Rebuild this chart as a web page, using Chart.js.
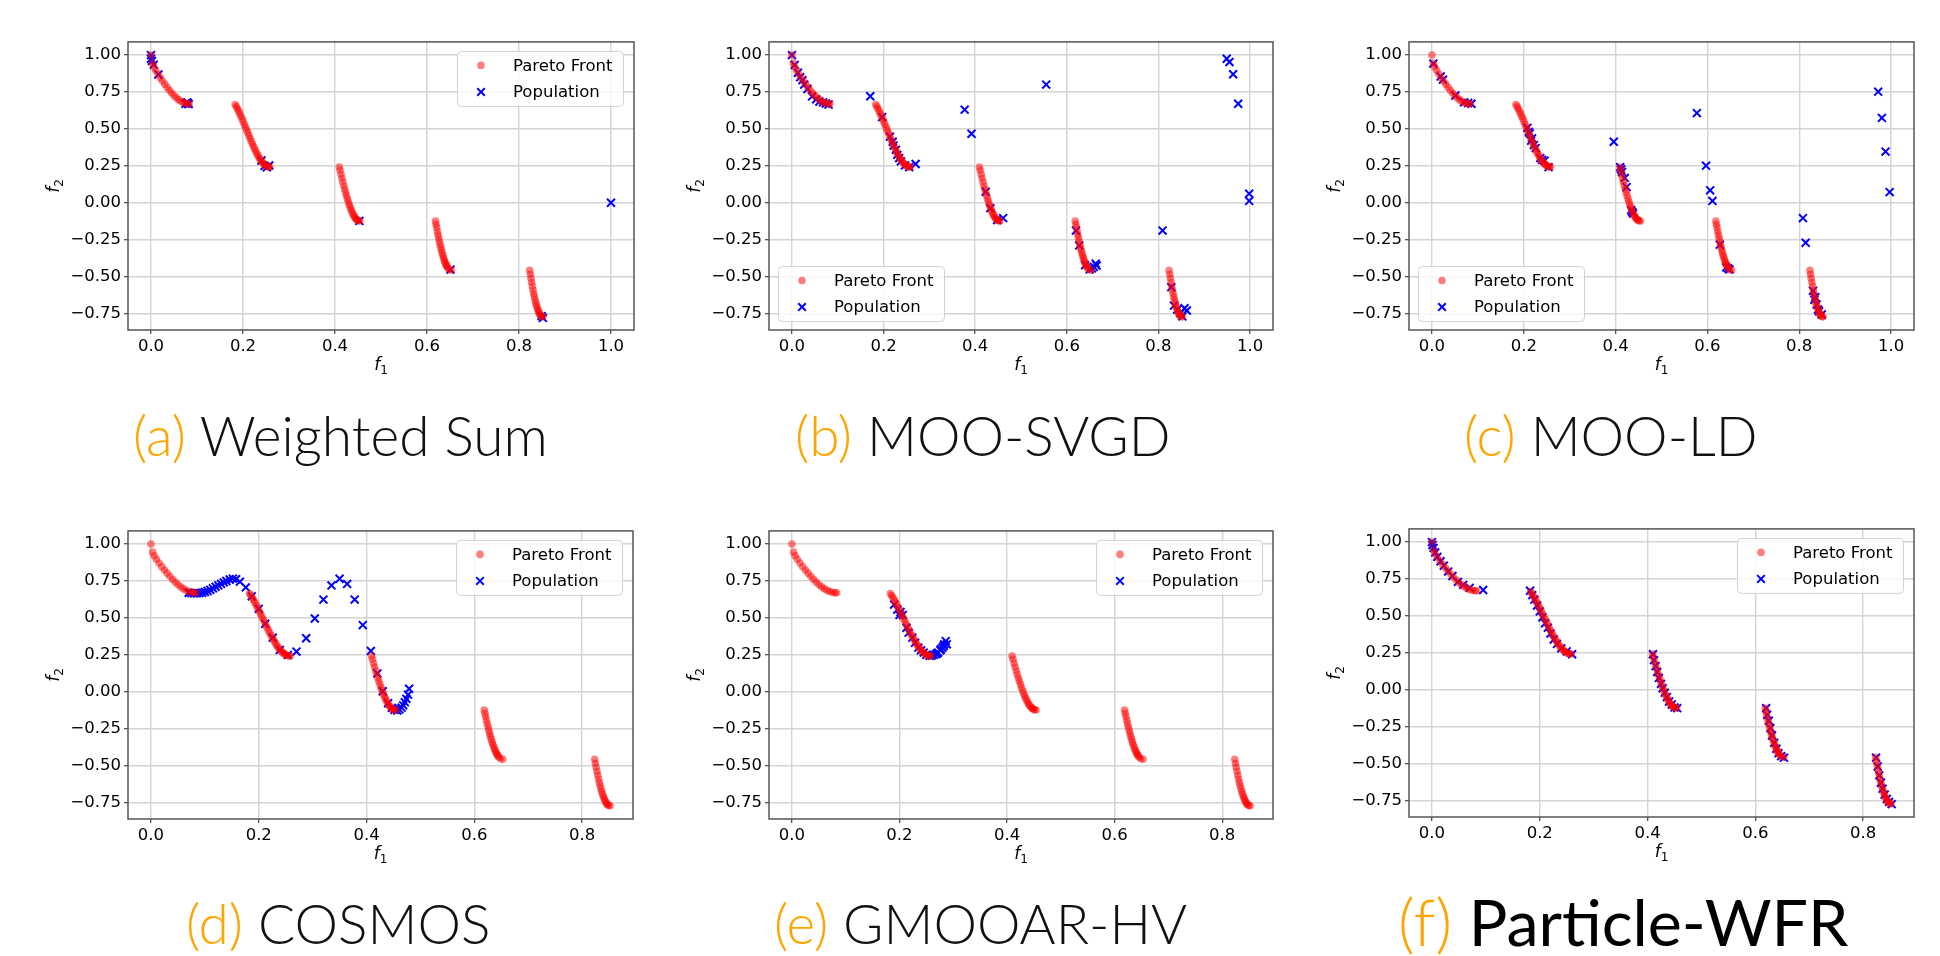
<!DOCTYPE html>
<html>
<head>
<meta charset="utf-8">
<title>Pareto front comparison</title>
<script src="https://cdn.jsdelivr.net/npm/chart.js@4.4.1/dist/chart.umd.min.js"></script>
<style>
  html, body { margin: 0; padding: 0; background: #fff; }
  #page { position: relative; width: 1940px; height: 956px; overflow: hidden; }
  canvas { position: absolute; }
  .cap { position: absolute; white-space: nowrap; font-family: Lato, "Noto Sans", sans-serif; font-weight: 300; line-height: 1; color: #111; }
  .cap .tag { color: #ffa500; }
</style>
</head>
<body>
<div id="page"></div>
<script>
// ---- data ----
// ZDT3-like true Pareto front, same in every panel
const paretoF1 = [
  0.000, 0.003, 0.006, 0.010, 0.015, 0.020, 0.025, 0.030, 0.035, 0.040, 0.045, 0.050, 0.055, 0.060, 0.065, 0.070, 0.075, 0.080, 0.083,
  0.183, 0.1855, 0.188, 0.1905, 0.193, 0.1955, 0.198, 0.2005, 0.203, 0.2055, 0.208, 0.2105, 0.213, 0.2155, 0.218, 0.2205, 0.223, 0.2255, 0.228, 0.2305, 0.233, 0.2355, 0.238, 0.2405, 0.243, 0.2455, 0.248, 0.2505, 0.253, 0.2555, 0.258,
  0.4093, 0.411, 0.413, 0.415, 0.417, 0.419, 0.421, 0.423, 0.425, 0.427, 0.429, 0.431, 0.433, 0.435, 0.437, 0.439, 0.441, 0.443, 0.445, 0.447, 0.449, 0.451, 0.4539,
  0.6184, 0.6197, 0.621, 0.6225, 0.624, 0.6255, 0.627, 0.6285, 0.630, 0.6315, 0.633, 0.6345, 0.636, 0.6375, 0.639, 0.6405, 0.642, 0.6435, 0.645, 0.648, 0.6528,
  0.8233, 0.8246, 0.826, 0.8275, 0.829, 0.8305, 0.832, 0.8335, 0.835, 0.8365, 0.838, 0.8395, 0.841, 0.8425, 0.844, 0.8455, 0.847, 0.849, 0.8518
];
const paretoF2 = [
  1.000, 0.945, 0.921, 0.897, 0.871, 0.847, 0.824, 0.803, 0.782, 0.762, 0.743, 0.726, 0.711, 0.698, 0.687, 0.679, 0.673, 0.670, 0.670,
  0.665, 0.651, 0.636, 0.620, 0.603, 0.585, 0.568, 0.549, 0.530, 0.511, 0.492, 0.473, 0.454, 0.435, 0.416, 0.398, 0.380, 0.363, 0.347, 0.331, 0.317, 0.303, 0.291, 0.280, 0.270, 0.262, 0.255, 0.249, 0.245, 0.243, 0.242,
  0.242, 0.220, 0.193, 0.167, 0.142, 0.117, 0.093, 0.070, 0.048, 0.026, 0.006, -0.013, -0.031, -0.047, -0.062, -0.076, -0.088, -0.098, -0.107, -0.114, -0.119, -0.122, -0.124,
  -0.124, -0.146, -0.168, -0.193, -0.217, -0.239, -0.262, -0.283, -0.303, -0.322, -0.341, -0.358, -0.373, -0.388, -0.401, -0.413, -0.423, -0.432, -0.440, -0.452, -0.458,
  -0.457, -0.484, -0.511, -0.539, -0.565, -0.591, -0.615, -0.637, -0.658, -0.677, -0.695, -0.710, -0.725, -0.737, -0.748, -0.757, -0.764, -0.770, -0.773
];

// (a) Weighted Sum population
const wsF1 = [0.000, 0.000, 0.002, 0.006, 0.016, 0.075, 0.079, 0.082, 0.080, 0.240, 0.247, 0.252, 0.257, 0.453, 0.651, 0.849, 0.852, 1.000];
const wsF2 = [1.000, 0.975, 0.960, 0.935, 0.868, 0.670, 0.680, 0.668, 0.672, 0.286, 0.250, 0.240, 0.252, -0.123, -0.453, -0.768, -0.780, 0.000];

// (b) MOO-SVGD population
const svgdF1 = [0.000, 0.006, 0.013, 0.018, 0.023, 0.027, 0.034, 0.044, 0.053, 0.060, 0.068, 0.074, 0.080, 0.171, 0.197, 0.214, 0.220, 0.222, 0.227, 0.230, 0.234, 0.238, 0.247, 0.256, 0.270,
  0.377, 0.392, 0.555, 0.423, 0.433, 0.448, 0.461, 0.620, 0.627, 0.640, 0.650, 0.655, 0.659, 0.663, 0.665, 0.809, 0.828, 0.834, 0.841, 0.848, 0.852, 0.857, 0.862,
  0.949, 0.955, 0.963, 0.974, 0.998, 0.998];
const svgdF2 = [1.000, 0.933, 0.880, 0.850, 0.830, 0.800, 0.770, 0.720, 0.700, 0.685, 0.680, 0.672, 0.665, 0.721, 0.580, 0.447, 0.413, 0.387, 0.358, 0.324, 0.302, 0.280, 0.253, 0.241, 0.262,
  0.630, 0.467, 0.800, 0.074, -0.037, -0.117, -0.104, -0.189, -0.289, -0.423, -0.452, -0.445, -0.434, -0.412, -0.425, -0.189, -0.572, -0.697, -0.724, -0.748, -0.770, -0.714, -0.730,
  0.975, 0.953, 0.870, 0.670, 0.061, 0.012];

// (c) MOO-LD population
const ldF1 = [0.003, 0.019, 0.024, 0.051, 0.070, 0.079, 0.086, 0.208, 0.211, 0.213, 0.216, 0.218, 0.222, 0.226, 0.236, 0.240, 0.245, 0.254,
  0.396, 0.410, 0.412, 0.414, 0.420, 0.424, 0.434, 0.436, 0.438, 0.577, 0.597, 0.606, 0.611, 0.627, 0.641, 0.645, 0.648,
  0.808, 0.814, 0.830, 0.833, 0.835, 0.838, 0.841, 0.843, 0.849, 0.972, 0.980, 0.988, 0.997];
const ldF2 = [0.942, 0.855, 0.833, 0.726, 0.680, 0.675, 0.670, 0.507, 0.480, 0.469, 0.420, 0.436, 0.390, 0.370, 0.302, 0.290, 0.284, 0.241,
  0.413, 0.240, 0.225, 0.208, 0.168, 0.106, -0.050, -0.062, -0.073, 0.607, 0.251, 0.084, 0.012, -0.284, -0.438, -0.445, -0.452,
  -0.104, -0.271, -0.597, -0.657, -0.640, -0.690, -0.724, -0.735, -0.757, 0.752, 0.574, 0.346, 0.072];

// (d) COSMOS population
const cosmosF1 = [0.070, 0.075, 0.080, 0.085, 0.090, 0.095, 0.100, 0.105, 0.110, 0.115, 0.120, 0.125, 0.130, 0.135, 0.140, 0.146, 0.152, 0.158, 0.165,
  0.176, 0.187, 0.200, 0.212, 0.226, 0.239, 0.254, 0.270, 0.288, 0.304, 0.320, 0.335, 0.350, 0.364, 0.378, 0.393, 0.408, 0.420, 0.430, 0.440,
  0.447, 0.452, 0.457, 0.461, 0.465, 0.468, 0.471, 0.474, 0.477, 0.479];
const cosmosF2 = [0.670, 0.668, 0.667, 0.667, 0.668, 0.670, 0.675, 0.682, 0.690, 0.700, 0.710, 0.720, 0.730, 0.740, 0.750, 0.760, 0.766, 0.762, 0.745,
  0.706, 0.646, 0.561, 0.460, 0.366, 0.283, 0.249, 0.272, 0.362, 0.496, 0.624, 0.720, 0.765, 0.730, 0.624, 0.451, 0.276, 0.124, 0.003, -0.078,
  -0.110, -0.122, -0.127, -0.120, -0.108, -0.092, -0.071, -0.048, -0.020, 0.020];

// (e) GMOOAR-HV population
const gmooarF1 = [0.190, 0.196, 0.200, 0.202, 0.206, 0.213, 0.217, 0.224, 0.229, 0.235, 0.240, 0.245, 0.250, 0.256, 0.260, 0.264, 0.268, 0.272, 0.276, 0.280, 0.283, 0.286, 0.288, 0.277, 0.270, 0.282];
const gmooarF2 = [0.590, 0.556, 0.520, 0.540, 0.520, 0.433, 0.400, 0.366, 0.332, 0.298, 0.280, 0.265, 0.250, 0.243, 0.245, 0.249, 0.255, 0.265, 0.280, 0.298, 0.320, 0.343, 0.321, 0.288, 0.260, 0.310];

// (f) Particle-WFR population
const wfrF1 = [0.000, 0.001, 0.003, 0.006, 0.010, 0.016, 0.022, 0.030, 0.038, 0.048, 0.058, 0.070, 0.095,
  0.182, 0.186, 0.190, 0.195, 0.200, 0.205, 0.210, 0.215, 0.220, 0.226, 0.232, 0.240, 0.250, 0.260,
  0.410, 0.412, 0.415, 0.418, 0.421, 0.425, 0.428, 0.432, 0.436, 0.440, 0.445, 0.450, 0.455,
  0.620, 0.622, 0.625, 0.628, 0.631, 0.635, 0.639, 0.643, 0.648, 0.653,
  0.824, 0.827, 0.830, 0.833, 0.836, 0.840, 0.844, 0.848, 0.853];
const wfrF2 = [1.000, 0.980, 0.960, 0.930, 0.900, 0.870, 0.840, 0.800, 0.770, 0.730, 0.710, 0.690, 0.675,
  0.670, 0.640, 0.610, 0.570, 0.530, 0.490, 0.450, 0.420, 0.380, 0.340, 0.310, 0.280, 0.260, 0.240,
  0.240, 0.200, 0.160, 0.120, 0.080, 0.040, 0.010, -0.020, -0.050, -0.080, -0.100, -0.120, -0.125,
  -0.125, -0.170, -0.210, -0.260, -0.310, -0.360, -0.400, -0.430, -0.450, -0.460,
  -0.460, -0.520, -0.580, -0.630, -0.670, -0.710, -0.740, -0.760, -0.775];

const xTicksTop = [0, 0.2, 0.4, 0.6, 0.8, 1.0];
const xTicksBottom = [0, 0.2, 0.4, 0.6, 0.8];
const yTicks = [-0.75, -0.5, -0.25, 0, 0.25, 0.5, 0.75, 1.0];
const legendLabels = ["Pareto Front", "Population"];
const captionTags = ["(a)", "(b)", "(c)", "(d)", "(e)", "(f)"];
const captionNames = ["Weighted Sum", "MOO-SVGD", "MOO-LD", "COSMOS", "GMOOAR-HV", "Particle-WFR"];

// ---- layout ----
const TICK_FONT = { family: "'DejaVu Sans', sans-serif", size: 16.5 };
const Y_AXIS_W = 110;
const X_AXIS_H = 60;
const PAD_T = 10;
const PAD_R = 12;

const panels = [
  { pop: [wsF1, wsF2], box: [128, 39, 634, 330], x: [-0.05, 1.05], xt: xTicksTop, legend: "ur", cap: [133, 457, 55, 300] },
  { pop: [svgdF1, svgdF2], box: [769, 39, 1273, 330], x: [-0.05, 1.05], xt: xTicksTop, legend: "ll", cap: [795, 457, 55, 300] },
  { pop: [ldF1, ldF2], box: [1409, 39, 1914, 330], x: [-0.05, 1.05], xt: xTicksTop, legend: "ll", cap: [1464, 457, 55, 300] },
  { pop: [cosmosF1, cosmosF2], box: [128, 528, 633, 819], x: [-0.0426, 0.8944], xt: xTicksBottom, legend: "ur", cap: [186, 945, 55, 300] },
  { pop: [gmooarF1, gmooarF2], box: [769, 528, 1273, 819], x: [-0.0426, 0.8944], xt: xTicksBottom, legend: "ur", cap: [774, 945, 55, 300] },
  { pop: [wfrF1, wfrF2], box: [1409, 526, 1914, 817], x: [-0.0426, 0.8944], xt: xTicksBottom, legend: "ur", cap: [1398, 946, 64.5, 400] }
];

function toPoints(xs, ys) {
  return xs.map((x, i) => ({ x, y: ys[i] }));
}

function drawLabel(ctx, x, y, main, sub) {
  ctx.font = "italic 17px 'DejaVu Sans'";
  const wm = ctx.measureText(main).width;
  ctx.font = "12px 'DejaVu Sans'";
  const ws = ctx.measureText(sub).width;
  const x0 = x - (wm + ws) / 2;
  ctx.textAlign = "left";
  ctx.textBaseline = "alphabetic";
  ctx.fillStyle = "#000";
  ctx.font = "italic 17px 'DejaVu Sans'";
  ctx.fillText(main, x0, y);
  ctx.font = "12px 'DejaVu Sans'";
  ctx.fillText(sub, x0 + wm, y + 4);
}

function roundRect(ctx, x, y, w, h, r) {
  ctx.beginPath();
  ctx.moveTo(x + r, y);
  ctx.arcTo(x + w, y, x + w, y + h, r);
  ctx.arcTo(x + w, y + h, x, y + h, r);
  ctx.arcTo(x, y + h, x, y, r);
  ctx.arcTo(x, y, x + w, y, r);
  ctx.closePath();
}

// frame, legend and axis labels in matplotlib style
const panelDecor = {
  id: "panelDecor",
  afterDraw(chart, args, opts) {
    const ctx = chart.ctx;
    const { left, top, right, bottom } = chart.chartArea;
    ctx.save();

    ctx.strokeStyle = "#555";
    ctx.lineWidth = 1.5;
    ctx.strokeRect(left, top, right - left, bottom - top);

    // legend box
    const w = 166, h = 55;
    const lx = opts.corner === "ur" ? right - 11 - w : left + 9;
    const ly = opts.corner === "ur" ? top + 9 : bottom - 9 - h;
    roundRect(ctx, lx + 0.5, ly + 0.5, w, h, 4);
    ctx.fillStyle = "rgba(255,255,255,0.8)";
    ctx.fill();
    ctx.strokeStyle = "#d2d2d2";
    ctx.lineWidth = 1;
    ctx.stroke();

    const mx = lx + 24;
    const r1 = ly + 14.5, r2 = ly + 41;
    ctx.fillStyle = "rgba(255,0,0,0.5)";
    ctx.beginPath();
    ctx.arc(mx, r1, 3.8, 0, Math.PI * 2);
    ctx.fill();
    ctx.strokeStyle = "#0000ff";
    ctx.lineWidth = 2;
    ctx.beginPath();
    ctx.moveTo(mx - 3.8, r2 - 3.8); ctx.lineTo(mx + 3.8, r2 + 3.8);
    ctx.moveTo(mx - 3.8, r2 + 3.8); ctx.lineTo(mx + 3.8, r2 - 3.8);
    ctx.stroke();

    ctx.fillStyle = "#000";
    ctx.font = "16.5px 'DejaVu Sans'";
    ctx.textAlign = "left";
    ctx.textBaseline = "middle";
    ctx.fillText(legendLabels[0], lx + 56, r1 + 1);
    ctx.fillText(legendLabels[1], lx + 56, r2 + 1);

    // axis labels
    drawLabel(ctx, (left + right) / 2, bottom + 40, "f", "1");
    ctx.translate(left - 69, (top + bottom) / 2);
    ctx.rotate(-Math.PI / 2);
    drawLabel(ctx, 0, 0, "f", "2");
    ctx.restore();
  }
};

const page = document.getElementById("page");

panels.forEach((p, i) => {
  const [l, t, r, b] = p.box;
  const canvas = document.createElement("canvas");
  const cw = (r - l) + Y_AXIS_W + PAD_R;
  const ch = (b - t) + PAD_T + X_AXIS_H;
  canvas.width = cw;
  canvas.height = ch;
  canvas.style.width = cw + "px";
  canvas.style.height = ch + "px";
  canvas.style.left = (l - Y_AXIS_W) + "px";
  canvas.style.top = (t - PAD_T) + "px";
  page.appendChild(canvas);

  const gridStyle = { color: "#d4d4d4", lineWidth: 1.4, tickLength: 4, tickColor: "#444", tickWidth: 1.2 };

  new Chart(canvas, {
    type: "scatter",
    data: {
      datasets: [
        {
          label: legendLabels[0],
          data: toPoints(paretoF1, paretoF2),
          pointStyle: "circle",
          pointRadius: 3.8,
          pointBackgroundColor: "rgba(255,0,0,0.5)",
          pointBorderWidth: 0
        },
        {
          label: legendLabels[1],
          data: toPoints(p.pop[0], p.pop[1]),
          pointStyle: "crossRot",
          pointRadius: 5.6,
          pointBorderColor: "#0000ff",
          pointBorderWidth: 2
        }
      ]
    },
    options: {
      responsive: false,
      animation: false,
      events: [],
      devicePixelRatio: 1,
      layout: { padding: { left: 0, top: PAD_T, right: PAD_R, bottom: 0 } },
      plugins: {
        legend: { display: false },
        tooltip: { enabled: false },
        panelDecor: { corner: p.legend }
      },
      scales: {
        x: {
          type: "linear",
          min: p.x[0],
          max: p.x[1],
          afterBuildTicks: (s) => { s.ticks = p.xt.map((v) => ({ value: v })); },
          afterFit: (s) => { s.height = X_AXIS_H; },
          ticks: { callback: (v) => v.toFixed(1), font: TICK_FONT, color: "#000", padding: 3, autoSkip: false, maxRotation: 0 },
          grid: gridStyle,
          border: { display: false }
        },
        y: {
          type: "linear",
          min: -0.862,
          max: 1.089,
          afterBuildTicks: (s) => { s.ticks = yTicks.map((v) => ({ value: v })); },
          afterFit: (s) => { s.width = Y_AXIS_W; },
          ticks: {
            callback: (v) => (v < 0 ? "\u2212" : "") + Math.abs(v).toFixed(2),
            font: TICK_FONT, color: "#000", padding: 3, autoSkip: false
          },
          grid: gridStyle,
          border: { display: false }
        }
      }
    },
    plugins: [panelDecor]
  });

  // caption under the panel
  const [cx, base, size, weight] = p.cap;
  const cap = document.createElement("div");
  cap.className = "cap";
  cap.style.left = cx + "px";
  cap.style.top = (base - 0.887 * size) + "px";
  cap.style.fontSize = size + "px";
  const tag = document.createElement("span");
  tag.className = "tag";
  tag.style.fontWeight = 300;
  tag.textContent = captionTags[i];
  const name = document.createElement("span");
  name.style.fontWeight = weight;
  name.style.color = weight > 300 ? "#000" : "#111";
  name.textContent = " " + captionNames[i];
  cap.appendChild(tag);
  cap.appendChild(name);
  page.appendChild(cap);
});
</script>
</body>
</html>
